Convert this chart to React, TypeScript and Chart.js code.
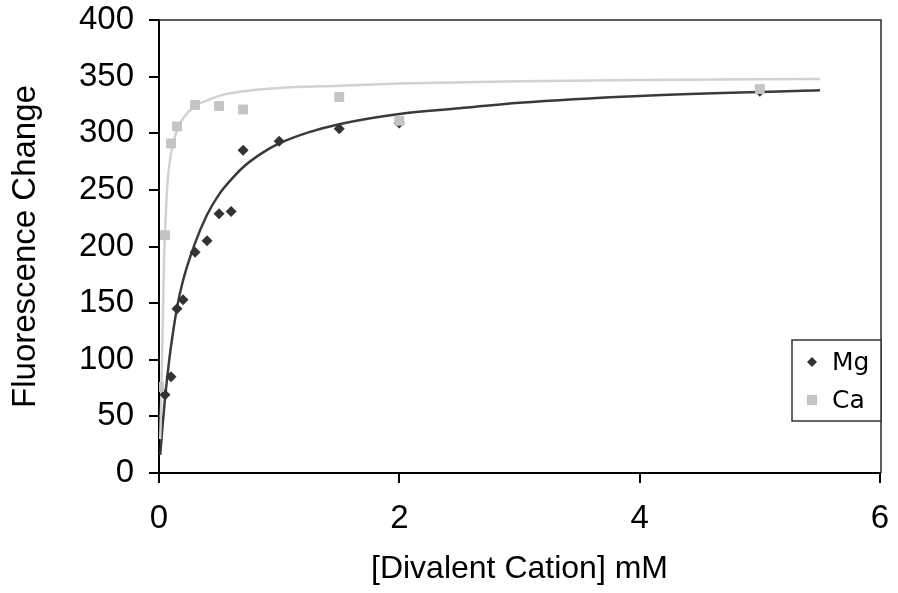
import { useEffect, useRef } from 'react';
import { Chart, registerables } from 'chart.js';

Chart.register(...registerables);

// Measured points
const mgConc = [0.05, 0.1, 0.15, 0.2, 0.3, 0.4, 0.5, 0.6, 0.7, 1, 1.5, 2, 5];
const mgSignal = [69, 85, 145, 153, 195, 205, 229, 231, 285, 293, 304, 309, 337];
const caConc = [0, 0.05, 0.1, 0.15, 0.3, 0.5, 0.7, 1.5, 2, 5];
const caSignal = [76, 210, 291, 306, 325, 324, 321, 332, 311, 339];

// Fitted curves
const mgFitConc = [0.01, 0.03, 0.05, 0.08, 0.1, 0.15, 0.2, 0.3, 0.4, 0.5, 0.6, 0.7, 0.85, 1, 1.25, 1.5, 2, 2.5, 3, 4, 5.5];
const mgFitSignal = [16, 42, 66, 95, 112, 146, 170, 203, 228, 246, 259, 270, 282, 291, 301, 308, 317, 322, 327, 333, 338];
const caFitConc = [0.01, 0.02, 0.03, 0.04, 0.05, 0.07, 0.1, 0.15, 0.2, 0.3, 0.4, 0.5, 0.7, 1, 1.5, 2, 3, 4, 5.5];
const caFitSignal = [30, 70, 125, 180, 212, 255, 282, 303, 313, 324, 329, 333, 337, 340, 342, 344, 346, 347, 348];

const seriesNames = ['Mg', 'Ca'];
const xAxisTitle = '[Divalent Cation] mM';
const yAxisTitle = 'Fluorescence Change';
const xRange = [0, 6];
const xStep = 2;
const yRange = [0, 400];
const yStep = 50;

const MG_COLOR = '#333333';
const CA_COLOR = '#c4c4c4';
const MG_LINE = '#3a3a3a';
const CA_LINE = '#d2d2d2';

const toXY = (xs: number[], ys: number[]) => xs.map((x, i) => ({ x, y: ys[i] }));

const frameAndLegend = {
  id: 'frameAndLegend',
  afterDatasetsDraw(chart: any) {
    const { ctx, chartArea } = chart;
    ctx.save();
    // top and right frame lines
    ctx.strokeStyle = '#2a2a2a';
    ctx.lineWidth = 1.5;
    ctx.beginPath();
    ctx.moveTo(chartArea.left, chartArea.top);
    ctx.lineTo(chartArea.right + 1, chartArea.top);
    ctx.lineTo(chartArea.right + 1, chartArea.bottom);
    ctx.stroke();

    // legend box
    const w = 89;
    const h = 81;
    const x0 = chartArea.right + 1 - w;
    const y0 = chartArea.top + 320;
    ctx.fillStyle = '#ffffff';
    ctx.fillRect(x0, y0, w, h);
    ctx.strokeStyle = '#333333';
    ctx.lineWidth = 1.5;
    ctx.strokeRect(x0, y0, w, h);

    const mx = x0 + 20;
    const rows = [y0 + 22, y0 + 60];
    // Mg diamond
    ctx.fillStyle = MG_COLOR;
    ctx.beginPath();
    ctx.moveTo(mx - 5, rows[0]);
    ctx.lineTo(mx, rows[0] - 5);
    ctx.lineTo(mx + 5, rows[0]);
    ctx.lineTo(mx, rows[0] + 5);
    ctx.closePath();
    ctx.fill();
    // Ca square
    ctx.fillStyle = CA_COLOR;
    ctx.fillRect(mx - 5, rows[1] - 5, 10, 10);

    ctx.fillStyle = '#000000';
    ctx.font = '25px "DejaVu Sans", Verdana, sans-serif';
    ctx.textBaseline = 'middle';
    ctx.textAlign = 'left';
    ctx.fillText(seriesNames[0], x0 + 40, rows[0] + 1);
    ctx.fillText(seriesNames[1], x0 + 40, rows[1] + 1);
    ctx.restore();
  },
};

export default function App() {
  const canvasRef = useRef<HTMLCanvasElement | null>(null);

  useEffect(() => {
    if (!canvasRef.current) return;
    const tickFont = { family: '"Liberation Sans", Arial, sans-serif', size: 33 };
    const titleFont = { family: '"Liberation Sans", Arial, sans-serif', size: 32 };
    const chart = new Chart(canvasRef.current, {
      type: 'scatter',
      data: {
        datasets: [
          {
            label: seriesNames[1],
            data: toXY(caConc, caSignal),
            pointStyle: 'rect',
            pointRadius: 7,
            pointBackgroundColor: CA_COLOR,
            pointBorderColor: CA_COLOR,
            pointBorderWidth: 0,
            showLine: false,
            order: 0,
          },
          {
            label: seriesNames[0],
            data: toXY(mgConc, mgSignal),
            pointStyle: 'rectRot',
            pointRadius: 5.5,
            pointBackgroundColor: MG_COLOR,
            pointBorderColor: MG_COLOR,
            pointBorderWidth: 0,
            showLine: false,
            order: 1,
          },
          {
            label: seriesNames[1] + ' fit',
            data: toXY(caFitConc, caFitSignal),
            showLine: true,
            pointRadius: 0,
            borderColor: CA_LINE,
            borderWidth: 2.5,
            cubicInterpolationMode: 'monotone',
            order: 2,
          },
          {
            label: seriesNames[0] + ' fit',
            data: toXY(mgFitConc, mgFitSignal),
            showLine: true,
            pointRadius: 0,
            borderColor: MG_LINE,
            borderWidth: 2.5,
            cubicInterpolationMode: 'monotone',
            order: 3,
          },
        ],
      },
      options: {
        responsive: false,
        animation: false,
        layout: { padding: { top: 20, right: 18, left: 0, bottom: 0 } },
        plugins: {
          legend: { display: false },
          tooltip: { enabled: false },
        },
        scales: {
          x: {
            type: 'linear',
            min: xRange[0],
            max: xRange[1],
            ticks: { stepSize: xStep, font: tickFont, color: '#000', padding: 16 },
            grid: { drawOnChartArea: false, drawTicks: true, tickLength: 10, color: '#000', lineWidth: 2 },
            border: { display: true, color: '#000', width: 2 },
            title: { display: true, text: xAxisTitle, font: titleFont, color: '#000', padding: { top: 0, bottom: 5 } },
            afterFit: (s: any) => { s.height = 120; s.paddingLeft = 0; s.paddingRight = 0; },
          },
          y: {
            type: 'linear',
            min: yRange[0],
            max: yRange[1],
            ticks: { stepSize: yStep, font: tickFont, color: '#000', padding: 15 },
            grid: { drawOnChartArea: false, drawTicks: true, tickLength: 10, color: '#000', lineWidth: 2 },
            border: { display: true, color: '#000', width: 2 },
            title: { display: true, text: yAxisTitle, font: { ...titleFont, size: 33 }, color: '#000', padding: { top: 6, bottom: 0 } },
            afterFit: (s: any) => { s.width = 159; s.paddingTop = 0; s.paddingBottom = 0; },
          },
        },
      },
      plugins: [frameAndLegend],
    });
    return () => chart.destroy();
  }, []);

  return (
    <div style={{ position: 'absolute', left: 0, top: 0, width: 898, height: 593, background: '#fff' }}>
      <canvas ref={canvasRef} width={898} height={593} />
    </div>
  );
}
